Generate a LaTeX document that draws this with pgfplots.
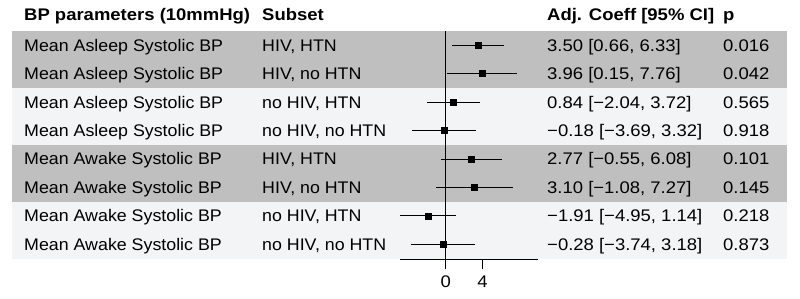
\documentclass[border=0pt]{standalone}
\usepackage{fontspec}
\setmainfont[FakeStretch=1.1]{Liberation Sans}
\newfontfamily\colA[FakeStretch=1.06]{Liberation Sans}
\usepackage{pgfplots}
\pgfplotsset{compat=1.18}
\usepackage{pgfplotstable}
\definecolor{bandD}{RGB}{191,191,191}
\definecolor{bandL}{RGB}{243,244,246}
\newcommand\fs{\fontsize{16.8}{19}\selectfont}

\pgfplotstableread{
row est em ep
8 3.50 2.84 2.83
7 3.96 3.81 3.80
6 0.84 2.88 2.88
5 -0.18 3.51 3.50
4 2.77 3.32 3.31
3 3.10 4.18 4.17
2 -1.91 3.04 3.05
1 -0.28 3.46 3.46
}\datatable

\begin{document}
\begin{tikzpicture}[x=1pt,y=1pt]
\path[use as bounding box] (0,0) rectangle (800,299);
\fill[bandD] (12,268) rectangle (787,211.12);
\fill[bandL] (12,211.12) rectangle (787,154.24);
\fill[bandD] (12,154.24) rectangle (787,97.36);
\fill[bandL] (12,97.36) rectangle (787,40.48);

\node[anchor=base west, inner sep=0, font=\fs\bfseries] at (24,278.3) {BP parameters (10mmHg)};
\node[anchor=base west, inner sep=0, font=\fs\bfseries] at (262,278.3) {Subset};
\node[anchor=base west, inner sep=0, font=\fs\bfseries] at (547,278.3) {Adj. Coeff [95\% CI]};
\node[anchor=base west, inner sep=0, font=\fs\bfseries] at (723,278.3) {p};

\foreach \yb/\a/\b/\c/\d in {
 247.78/Asleep/{HIV, HTN}/{3.50 [0.66, 6.33]}/0.016,
 219.34/Asleep/{HIV, no HTN}/{3.96 [0.15, 7.76]}/0.042,
 190.90/Asleep/{no HIV, HTN}/{0.84 [−2.04, 3.72]}/0.565,
 162.46/Asleep/{no HIV, no HTN}/{−0.18 [−3.69, 3.32]}/0.918,
 134.02/Awake/{HIV, HTN}/{2.77 [−0.55, 6.08]}/0.101,
 105.58/Awake/{HIV, no HTN}/{3.10 [−1.08, 7.27]}/0.145,
 77.14/Awake/{no HIV, HTN}/{−1.91 [−4.95, 1.14]}/0.218,
 48.70/Awake/{no HIV, no HTN}/{−0.28 [−3.74, 3.18]}/0.873}{
  \node[anchor=base west, inner sep=0, font=\fs\colA] at (24,\yb) {Mean \a\ Systolic BP};
  \node[anchor=base west, inner sep=0, font=\fs\colA] at (262,\yb) {\b};
  \node[anchor=base west, inner sep=0, font=\fs] at (547,\yb) {\c};
  \node[anchor=base west, inner sep=0, font=\fs] at (723,\yb) {\d};
}

\begin{axis}[at={(400pt,40pt)}, anchor=south west, scale only axis,
  width=138pt, height=228pt, xmin=-4.95, xmax=10, ymin=0.483, ymax=8.5,
  axis x line=bottom, axis y line=none, axis line style={line width=0.9pt,-},
  xtick={0,4}, tick align=outside, major tick length=10.5pt,
  tick style={line width=0.9pt, black}, clip=false,
  ticklabel style={font=\fs}, xticklabel style={yshift=-3pt},
  /pgf/number format/assume math mode=true]
\addplot[black, line width=0.9pt] coordinates {(0,0.483) (0,8.5)};
\addplot[only marks, mark=square*, mark size=3pt, black,
  error bars/.cd, x dir=both, x explicit, error mark=none,
  error bar style={line width=0.9pt}]
  table[x=est, y=row, x error minus=em, x error plus=ep] {\datatable};
\end{axis}
\end{tikzpicture}
\end{document}
